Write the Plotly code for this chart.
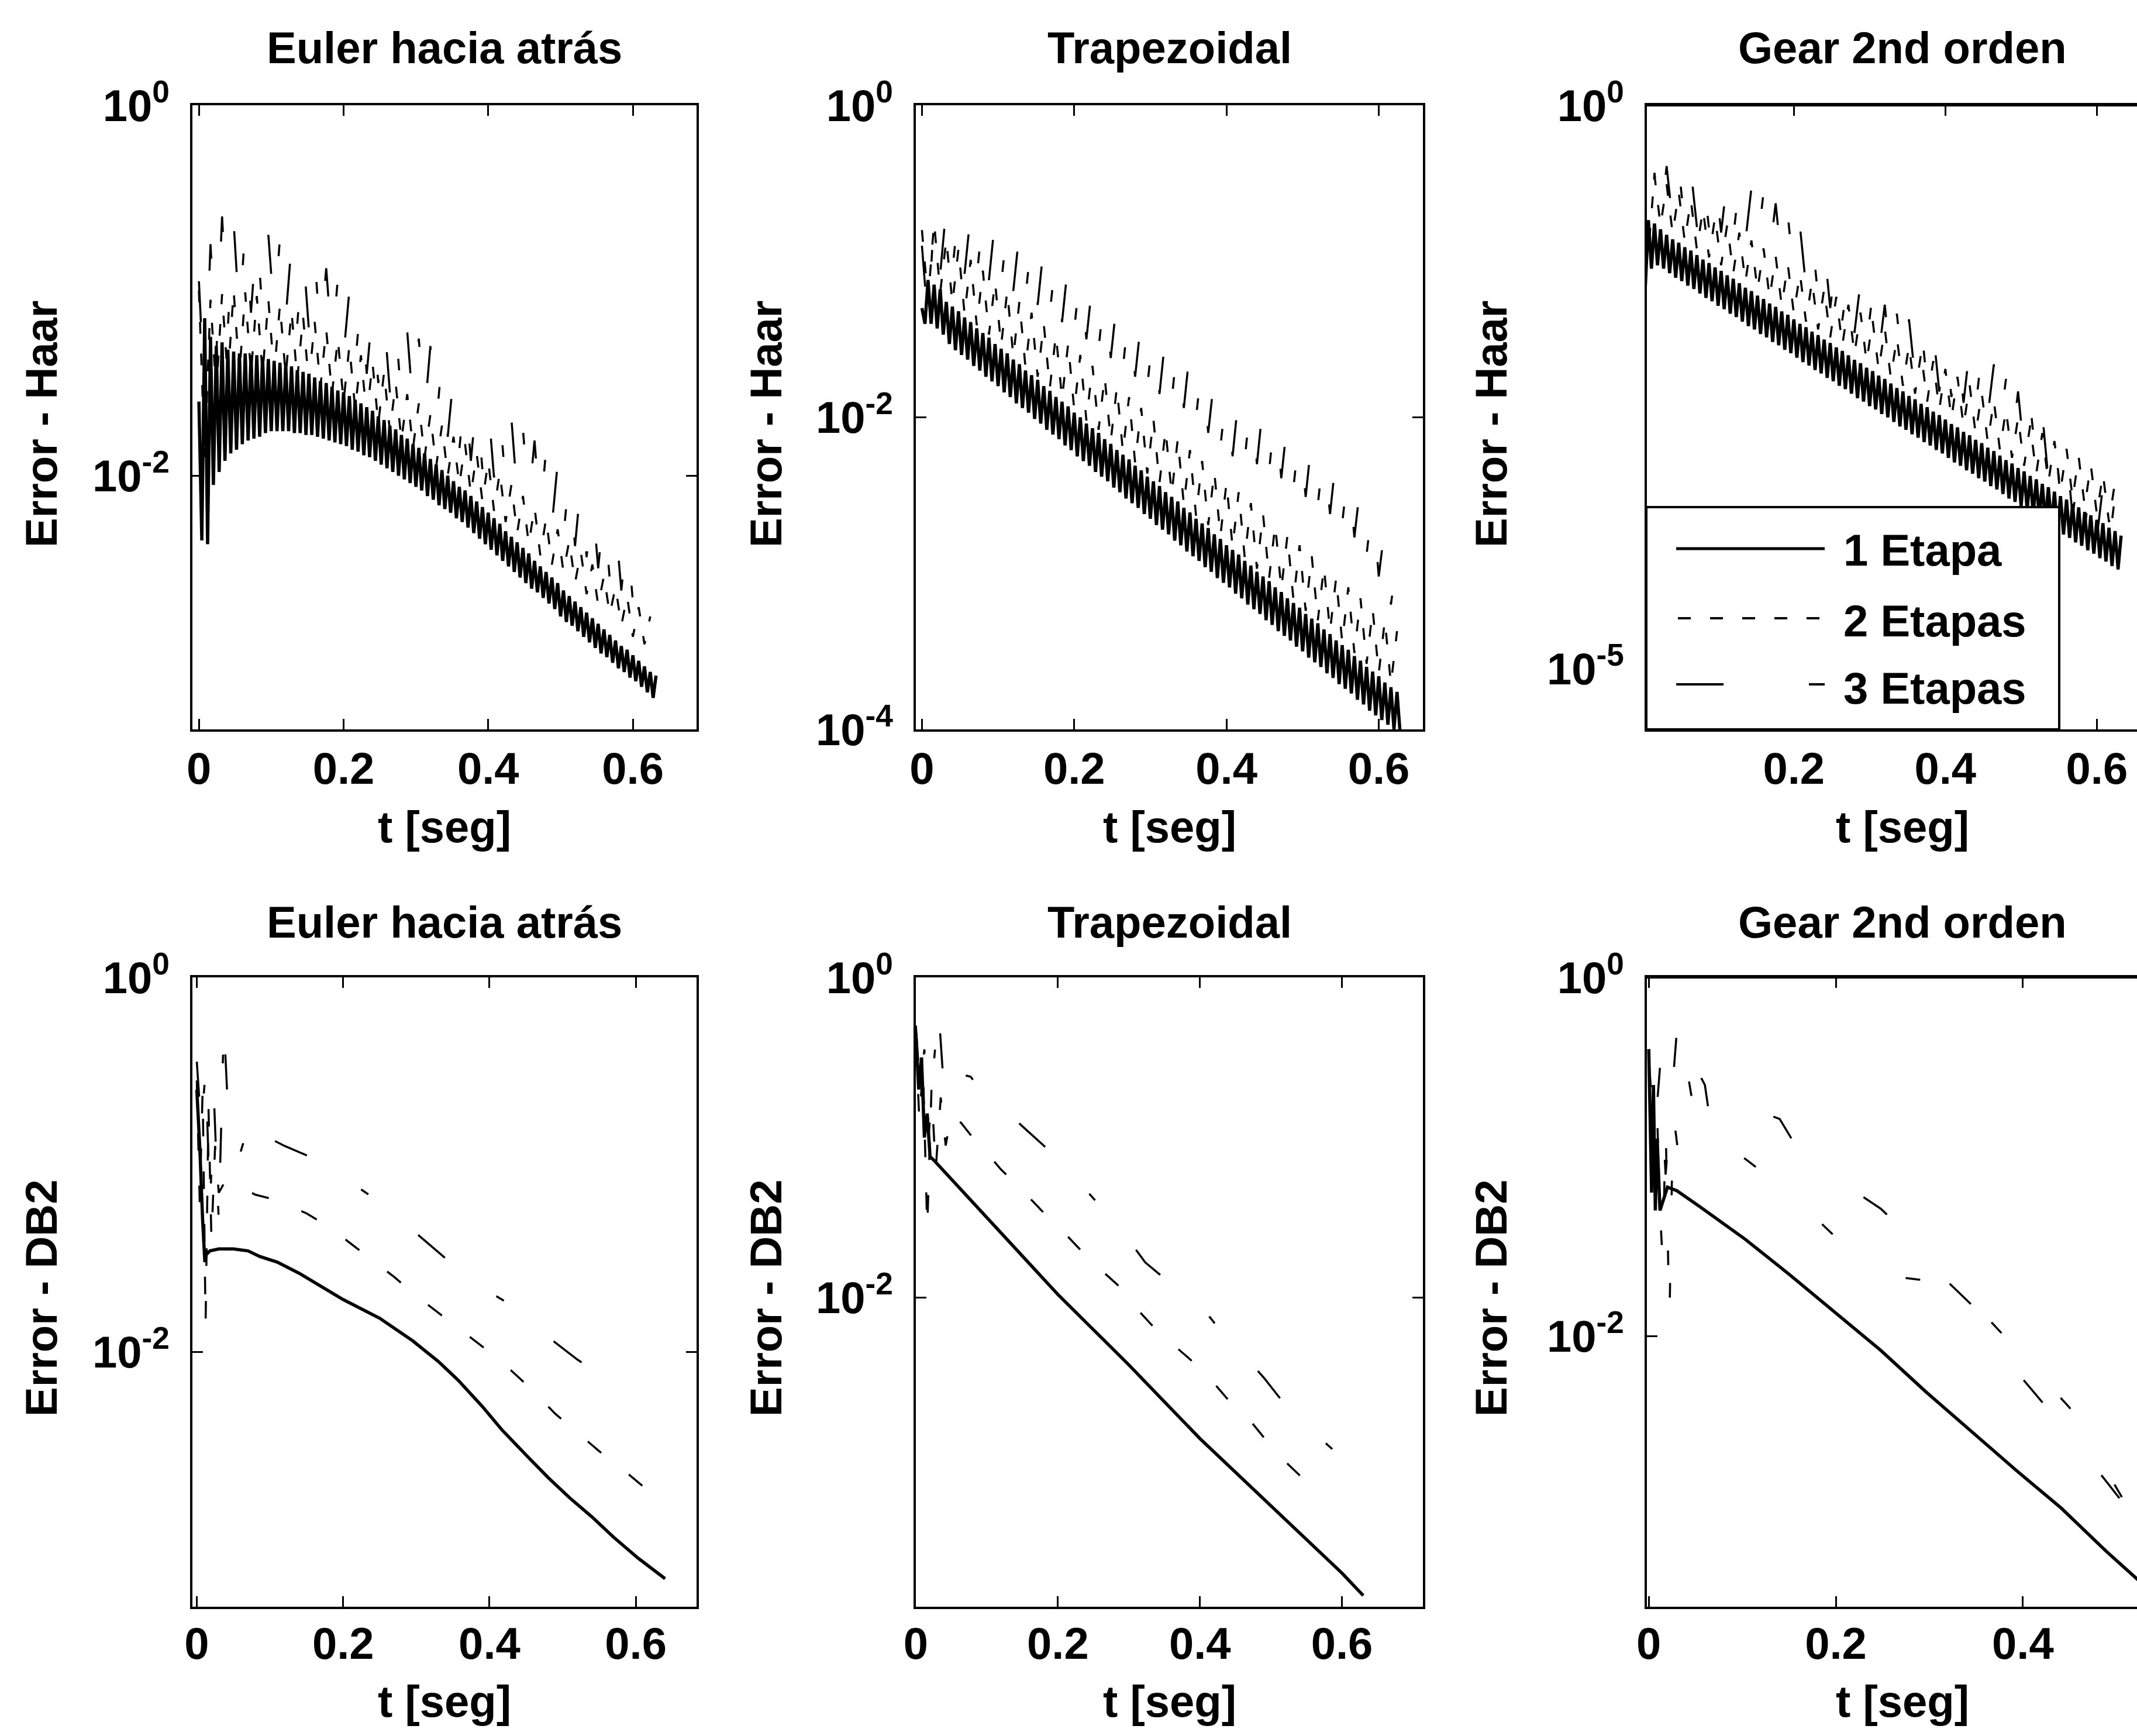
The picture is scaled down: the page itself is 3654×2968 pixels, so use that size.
import plotly.graph_objects as go

# ---------------- data (log10 of error) ----------------
# Haar rows: the error oscillates quickly; values are given as successive peaks / troughs.
STEP_S1 = 0.008      # time between successive peaks, 1 Etapa curves [s]
STEP_S23 = 0.016     # time between successive peaks, 2/3 Etapas curves [s]

P1_S1_PK = [-1.60,-1.15,-1.25,-1.30,-1.28,-1.32,-1.33,-1.34,-1.34,-1.35,
            -1.35,-1.36,-1.37,-1.38,-1.39,-1.40,-1.41,-1.43,-1.44,-1.45,
            -1.47,-1.49,-1.50,-1.52,-1.54,-1.55,-1.57,-1.59,-1.61,-1.63,
            -1.65,-1.68,-1.70,-1.73,-1.75,-1.78,-1.80,-1.83,-1.85,-1.88,
            -1.91,-1.94,-1.97,-2.00,-2.03,-2.06,-2.08,-2.11,-2.14,-2.17,
            -2.20,-2.23,-2.26,-2.30,-2.33,-2.36,-2.39,-2.42,-2.46,-2.49,
            -2.52,-2.55,-2.58,-2.62,-2.65,-2.68,-2.71,-2.74,-2.77,-2.80,
            -2.83,-2.86,-2.89,-2.92,-2.94,-2.97,-3.00,-3.03,-3.06,-3.08]
P1_S1_TR = [-2.35,-2.37,-2.05,-1.98,-1.92,-1.88,-1.86,-1.83,-1.81,-1.80,
            -1.79,-1.77,-1.76,-1.76,-1.76,-1.76,-1.77,-1.77,-1.78,-1.78,
            -1.79,-1.80,-1.81,-1.82,-1.83,-1.84,-1.86,-1.87,-1.89,-1.90,
            -1.92,-1.94,-1.96,-1.98,-2.00,-2.02,-2.04,-2.06,-2.08,-2.11,
            -2.13,-2.16,-2.18,-2.20,-2.23,-2.25,-2.28,-2.31,-2.34,-2.37,
            -2.40,-2.43,-2.46,-2.49,-2.52,-2.55,-2.58,-2.61,-2.63,-2.66,
            -2.69,-2.72,-2.76,-2.79,-2.81,-2.84,-2.87,-2.90,-2.93,-2.96,
            -2.98,-3.01,-3.04,-3.06,-3.09,-3.11,-3.14,-3.17,-3.20]
P1_S2_PK = [-1.00,-1.05,-1.02,-1.00,-1.01,-1.03,-1.05,-1.08,-1.11,-1.14,
            -1.17,-1.21,-1.26,-1.30,-1.35,-1.39,-1.44,-1.50,-1.56,-1.61,
            -1.67,-1.73,-1.79,-1.83,-1.88,-1.92,-1.98,-2.05,-2.11,-2.17,
            -2.23,-2.29,-2.35,-2.41,-2.48,-2.54,-2.60,-2.65,-2.71,-2.76]
P1_S2_TR = [-1.90,-1.55,-1.48,-1.45,-1.45,-1.45,-1.45,-1.46,-1.48,-1.50,
            -1.52,-1.56,-1.60,-1.64,-1.68,-1.72,-1.76,-1.81,-1.85,-1.90,
            -1.95,-2.00,-2.05,-2.10,-2.14,-2.19,-2.25,-2.31,-2.37,-2.43,
            -2.48,-2.52,-2.58,-2.64,-2.70,-2.75,-2.81,-2.87,-2.91]
P1_S3_PK = [-0.95,-0.75,-0.60,-0.63,-0.66,-0.68,-0.70,-0.72,-0.75,-0.78,
            -0.82,-0.88,-0.94,-1.00,-1.05,-1.10,-1.14,-1.19,-1.22,-1.26,
            -1.30,-1.38,-1.46,-1.54,-1.58,-1.62,-1.65,-1.69,-1.75,-1.81,
            -1.86,-1.93,-1.99,-2.04,-2.12,-2.18,-2.25,-2.31,-2.37]
P1_S3_TR = [-1.60,-1.35,-1.20,-1.15,-1.12,-1.12,-1.13,-1.15,-1.18,-1.21,
            -1.25,-1.30,-1.35,-1.40,-1.45,-1.50,-1.55,-1.59,-1.63,-1.67,
            -1.72,-1.79,-1.86,-1.92,-1.97,-2.01,-2.05,-2.10,-2.15,-2.21,
            -2.27,-2.33,-2.38,-2.44,-2.50,-2.56,-2.62,-2.68]

P2_S1_PK = [-1.30,-1.12,-1.15,-1.18,-1.26,-1.29,-1.32,-1.36,-1.39,-1.43,
            -1.46,-1.49,-1.53,-1.56,-1.59,-1.63,-1.66,-1.70,-1.73,-1.76,
            -1.80,-1.83,-1.87,-1.90,-1.93,-1.97,-2.00,-2.04,-2.07,-2.10,
            -2.14,-2.17,-2.21,-2.24,-2.27,-2.31,-2.34,-2.38,-2.41,-2.44,
            -2.48,-2.51,-2.54,-2.58,-2.61,-2.65,-2.68,-2.71,-2.75,-2.78,
            -2.82,-2.85,-2.88,-2.92,-2.95,-2.99,-3.02,-3.05,-3.09,-3.12,
            -3.16,-3.19,-3.22,-3.26,-3.29,-3.32,-3.36,-3.39,-3.43,-3.46,
            -3.49,-3.53,-3.56,-3.60,-3.63,-3.66,-3.70,-3.73,-3.76]
P2_S1_TR = [-1.40,-1.40,-1.43,-1.47,-1.53,-1.57,-1.60,-1.63,-1.67,-1.70,
            -1.74,-1.77,-1.80,-1.84,-1.87,-1.91,-1.94,-1.97,-2.01,-2.04,
            -2.08,-2.11,-2.14,-2.18,-2.21,-2.25,-2.28,-2.31,-2.35,-2.38,
            -2.41,-2.45,-2.48,-2.52,-2.55,-2.58,-2.62,-2.65,-2.69,-2.72,
            -2.75,-2.79,-2.82,-2.86,-2.89,-2.92,-2.96,-2.99,-3.03,-3.06,
            -3.09,-3.13,-3.16,-3.20,-3.23,-3.26,-3.30,-3.33,-3.37,-3.40,
            -3.43,-3.47,-3.50,-3.54,-3.57,-3.60,-3.64,-3.67,-3.71,-3.74,
            -3.77,-3.81,-3.84,-3.88,-3.91,-3.94,-3.97,-4.00,-4.02]
P2_S2_PK = [-0.80,-0.75,-0.86,-0.92,-0.99,-1.06,-1.13,-1.19,-1.26,-1.33,
            -1.40,-1.47,-1.53,-1.60,-1.67,-1.74,-1.81,-1.87,-1.94,-2.01,
            -2.08,-2.14,-2.21,-2.28,-2.35,-2.42,-2.48,-2.55,-2.62,-2.69,
            -2.76,-2.82,-2.89,-2.96,-3.03,-3.09,-3.16,-3.23,-3.30,-3.37]
P2_S2_TR = [-1.25,-1.20,-1.27,-1.34,-1.41,-1.47,-1.54,-1.61,-1.68,-1.74,
            -1.81,-1.88,-1.95,-2.02,-2.08,-2.15,-2.22,-2.29,-2.36,-2.42,
            -2.49,-2.56,-2.63,-2.69,-2.76,-2.83,-2.90,-2.97,-3.03,-3.10,
            -3.17,-3.24,-3.30,-3.37,-3.44,-3.51,-3.58,-3.64,-3.71]
P2_S3_PK = [-0.90,-0.70,-0.65,-0.67,-0.69,-0.71,-0.73,-0.77,-0.81,-0.85,
            -0.90,-0.96,-1.01,-1.06,-1.13,-1.19,-1.25,-1.31,-1.37,-1.43,
            -1.47,-1.51,-1.56,-1.65,-1.74,-1.83,-1.86,-1.88,-1.91,-1.96,
            -2.02,-2.08,-2.13,-2.19,-2.25,-2.32,-2.42,-2.54,-2.70,-2.90]
P2_S3_TR = [-1.40,-1.08,-1.06,-1.08,-1.10,-1.12,-1.15,-1.19,-1.23,-1.28,
            -1.33,-1.39,-1.44,-1.50,-1.56,-1.62,-1.68,-1.74,-1.80,-1.85,
            -1.89,-1.94,-2.00,-2.10,-2.19,-2.25,-2.27,-2.30,-2.34,-2.39,
            -2.45,-2.51,-2.56,-2.62,-2.68,-2.77,-2.88,-3.02,-3.20]

P3_S1_PK = [-1.30,-1.02,-1.05,-1.10,-1.15,-1.19,-1.22,-1.26,-1.29,-1.33,
            -1.37,-1.40,-1.44,-1.47,-1.51,-1.54,-1.58,-1.62,-1.65,-1.69,
            -1.72,-1.76,-1.79,-1.83,-1.86,-1.90,-1.94,-1.97,-2.01,-2.04,
            -2.08,-2.11,-2.15,-2.18,-2.22,-2.26,-2.29,-2.33,-2.36,-2.40,
            -2.43,-2.47,-2.51,-2.54,-2.58,-2.61,-2.65,-2.68,-2.72,-2.75,
            -2.79,-2.83,-2.86,-2.90,-2.93,-2.97,-3.00,-3.04,-3.07,-3.11,
            -3.15,-3.18,-3.22,-3.25,-3.29,-3.32,-3.36,-3.39,-3.43,-3.47,
            -3.50,-3.54,-3.57,-3.61,-3.64,-3.68,-3.71,-3.75,-3.78,-3.82]
P3_S1_TR = [-1.60,-1.45,-1.42,-1.45,-1.49,-1.53,-1.56,-1.60,-1.63,-1.67,
            -1.71,-1.74,-1.78,-1.81,-1.85,-1.88,-1.92,-1.96,-1.99,-2.03,
            -2.06,-2.10,-2.13,-2.17,-2.20,-2.24,-2.28,-2.31,-2.35,-2.38,
            -2.42,-2.45,-2.49,-2.52,-2.56,-2.60,-2.63,-2.67,-2.70,-2.74,
            -2.77,-2.81,-2.85,-2.88,-2.92,-2.95,-2.99,-3.02,-3.06,-3.09,
            -3.13,-3.17,-3.20,-3.24,-3.27,-3.31,-3.34,-3.38,-3.41,-3.45,
            -3.49,-3.52,-3.56,-3.59,-3.63,-3.66,-3.70,-3.73,-3.77,-3.81,
            -3.84,-3.88,-3.91,-3.95,-3.98,-4.02,-4.05,-4.09,-4.12]
P3_S2_PK = [-0.85,-0.62,-0.70,-0.77,-0.84,-0.92,-0.99,-1.06,-1.13,-1.20,
            -1.27,-1.34,-1.41,-1.49,-1.56,-1.63,-1.70,-1.77,-1.84,-1.91,
            -1.98,-2.06,-2.13,-2.20,-2.27,-2.34,-2.41,-2.48,-2.55,-2.62,
            -2.70,-2.77,-2.84,-2.91,-2.98,-3.05,-3.12,-3.19,-3.27,-3.34]
P3_S2_TR = [-1.30,-1.07,-1.14,-1.21,-1.28,-1.35,-1.42,-1.49,-1.57,-1.64,
            -1.71,-1.78,-1.85,-1.92,-1.99,-2.06,-2.13,-2.21,-2.28,-2.35,
            -2.42,-2.49,-2.56,-2.63,-2.70,-2.78,-2.85,-2.92,-2.99,-3.06,
            -3.13,-3.20,-3.27,-3.35,-3.42,-3.49,-3.56,-3.63,-3.70]
P3_S3_PK = [-0.90,-0.60,-0.54,-0.55,-0.57,-0.59,-0.62,-0.65,-0.69,-0.73,
            -0.77,-0.87,-0.97,-1.07,-1.16,-1.25,-1.36,-1.47,-1.57,-1.67,
            -1.77,-1.85,-1.90,-1.95,-2.01,-2.07,-2.12,-2.16,-2.20,-2.30,
            -2.43,-2.54,-2.64,-2.74,-2.90,-3.08,-3.22,-3.30,-3.38,-3.46]
P3_S3_TR = [-1.40,-1.07,-1.04,-1.06,-1.08,-1.10,-1.13,-1.17,-1.21,-1.25,
            -1.32,-1.42,-1.52,-1.61,-1.70,-1.80,-1.91,-2.02,-2.12,-2.22,
            -2.31,-2.37,-2.42,-2.48,-2.54,-2.59,-2.64,-2.68,-2.75,-2.86,
            -2.98,-3.09,-3.19,-3.32,-3.49,-3.65,-3.76,-3.84,-3.92]

# DB2 rows: (time, log10 error) pairs
P4_S1_T = [0.000,0.004,0.008,0.011,0.013,0.018,0.030,0.050,0.070,0.086,0.110,0.140,0.170,0.200,
           0.250,0.295,0.330,0.357,0.390,0.418,0.450,0.480,0.510,0.540,0.570,0.603,0.640]
P4_S1_E = [-0.60,-0.90,-1.30,-1.52,-1.48,-1.46,-1.45,-1.45,-1.46,-1.49,-1.52,-1.58,-1.65,-1.72,
           -1.82,-1.94,-2.05,-2.15,-2.29,-2.42,-2.55,-2.67,-2.78,-2.88,-2.99,-3.10,-3.21]
P4_S2_T = [0.000,0.004,0.008,0.012,0.016,0.020,0.025,0.030,0.040,0.050,0.060,0.080,0.100,0.120,0.150,
           0.180,0.210,0.240,0.270,0.300,0.330,0.360,0.400,0.430,0.455,0.490,0.520,0.550,0.580,0.620]
P4_S2_E = [-0.55,-1.20,-0.60,-1.85,-0.70,-1.40,-0.90,-1.15,-1.08,-1.09,-1.12,-1.16,-1.18,-1.21,-1.26,
           -1.33,-1.42,-1.51,-1.60,-1.70,-1.79,-1.88,-2.00,-2.10,-2.19,-2.33,-2.43,-2.53,-2.62,-2.75]
P4_S3_T = [0.000,0.006,0.012,0.018,0.024,0.030,0.037,0.042,0.050,0.060,0.070,0.080,0.100,0.120,0.150,
           0.170,0.190,0.220,0.250,0.280,0.310,0.340,0.370,0.400,0.430,0.460,0.490,0.520,0.550]
P4_S3_E = [-0.45,-0.80,-0.50,-1.20,-0.70,-1.30,-0.24,-0.66,-0.85,-0.93,-0.80,-0.92,-0.86,-0.90,-0.95,
           -0.98,-1.03,-1.12,-1.20,-1.30,-1.40,-1.50,-1.60,-1.68,-1.75,-1.85,-1.95,-2.04,-2.12]

P5_S1_T = [0.000,0.004,0.008,0.012,0.016,0.020,0.025,0.050,0.100,0.150,0.200,0.250,0.300,0.350,
           0.400,0.450,0.500,0.550,0.600,0.630]
P5_S1_E = [-0.35,-0.70,-0.50,-1.00,-0.85,-1.12,-1.14,-1.26,-1.50,-1.74,-1.98,-2.20,-2.42,-2.65,
           -2.88,-3.09,-3.30,-3.51,-3.72,-3.86]
P5_S2_T = [0.000,0.005,0.010,0.016,0.022,0.028,0.035,0.042,0.050,0.064,0.080,0.093,0.120,0.150,0.180,
           0.210,0.240,0.259,0.284,0.307,0.332,0.364,0.390,0.419,0.444,0.473,0.495,0.524,0.550]
P5_S2_E = [-0.40,-0.90,-0.55,-1.57,-0.70,-1.20,-0.75,-1.05,-0.85,-0.91,-1.00,-1.06,-1.20,-1.33,-1.47,
           -1.60,-1.74,-1.82,-1.92,-2.05,-2.17,-2.30,-2.40,-2.53,-2.66,-2.78,-2.90,-3.04,-3.15]
P5_S3_T = [0.000,0.006,0.012,0.018,0.024,0.032,0.038,0.045,0.058,0.077,0.100,0.120,0.131,0.150,0.180,
           0.210,0.234,0.260,0.290,0.323,0.350,0.380,0.410,0.428,0.460,0.490,0.522,0.550,0.580,0.600,
           0.622,0.630]
P5_S3_E = [-0.30,-0.70,-0.45,-1.00,-0.60,-0.20,-0.60,-0.45,-0.60,-0.62,-0.75,-0.80,-0.85,-0.93,-1.05,
           -1.18,-1.30,-1.43,-1.58,-1.78,-1.88,-1.99,-2.10,-2.20,-2.35,-2.50,-2.68,-2.80,-2.92,-3.00,
           -3.10,-3.15]

P6_S1_T = [0.000,0.003,0.005,0.007,0.009,0.012,0.020,0.030,0.055,0.103,0.151,0.200,0.248,0.296,
           0.344,0.393,0.441,0.489,0.540,0.600,0.630]
P6_S1_E = [-0.40,-1.20,-0.60,-1.30,-0.90,-1.30,-1.17,-1.19,-1.28,-1.46,-1.66,-1.87,-2.08,-2.31,
           -2.53,-2.75,-2.96,-3.20,-3.44,-3.70,-3.82]
P6_S2_T = [0.000,0.004,0.008,0.012,0.015,0.018,0.022,0.026,0.032,0.043,0.050,0.065,0.080,0.100,
           0.150,0.200,0.250,0.310,0.330,0.380,0.450,0.516,0.550]
P6_S2_E = [-0.50,-1.00,-0.60,-1.30,-1.60,-0.80,-1.94,-0.75,-1.00,-0.58,-0.80,-0.90,-0.95,-1.00,
           -1.20,-1.45,-1.66,-1.70,-1.72,-2.00,-2.40,-2.99,-3.10]
P6_S3_T = [0.000,0.006,0.012,0.018,0.024,0.030,0.035,0.040,0.050,0.060,0.065,0.075,0.090,0.120,
           0.140,0.155,0.190,0.225,0.248,0.280,0.320,0.360,0.383,0.395,0.450,0.516]
P6_S3_E = [-0.45,-0.90,-0.50,-1.10,-0.70,-0.30,-0.20,-0.37,-0.50,-0.60,-0.78,-0.70,-0.64,-0.75,
           -0.79,-0.92,-1.05,-1.21,-1.29,-1.45,-1.70,-1.90,-2.07,-2.21,-2.55,-2.99]

TITLES = ["Euler hacia atrás", "Trapezoidal", "Gear 2nd orden"]
ROW_YLABELS = ["Error - Haar", "Error - DB2"]
XLABEL = "t [seg]"
LEGEND_NAMES = ["1 Etapa", "2 Etapas", "3 Etapas"]
X_TICKS = [0, 0.2, 0.4, 0.6]
X_TICKTEXT = ["0", "0.2", "0.4", "0.6"]

# ---------------- helpers ----------------
def osc(peaks, troughs, step):
    t, v = [], []
    for k, p in enumerate(peaks):
        t.append(round(k * step, 4)); v.append(10 ** p)
        if k < len(troughs):
            t.append(round(k * step + step / 2, 4)); v.append(10 ** troughs[k])
    return t, v

def lin(ts, es):
    return list(ts), [10 ** e for e in es]

FONT = "Liberation Sans, Arial, Helvetica, sans-serif"
W, H = 3654, 2968
def px(x): return x / W
def py(y): return 1 - y / H

S1 = dict(color="black", width=5.5)
S2_H = dict(color="black", width=3.5, dash="20px,34px")
S3_H = dict(color="black", width=3.5, dash="70px,170px,20px,170px")
S2_D = dict(color="black", width=3.5, dash="30px,60px")
S3_D = dict(color="black", width=3.5, dash="60px,110px,15px,110px")
S2_G = dict(color="black", width=3.5, dash="25px,150px")
S3_G = dict(color="black", width=3.5, dash="50px,160px")

panels = [
    [osc(P1_S1_PK, P1_S1_TR, STEP_S1), osc(P1_S2_PK, P1_S2_TR, STEP_S23), osc(P1_S3_PK, P1_S3_TR, STEP_S23)],
    [osc(P2_S1_PK, P2_S1_TR, STEP_S1), osc(P2_S2_PK, P2_S2_TR, STEP_S23), osc(P2_S3_PK, P2_S3_TR, STEP_S23)],
    [osc(P3_S1_PK, P3_S1_TR, STEP_S1), osc(P3_S2_PK, P3_S2_TR, STEP_S23), osc(P3_S3_PK, P3_S3_TR, STEP_S23)],
    [lin(P4_S1_T, P4_S1_E), lin(P4_S2_T, P4_S2_E), lin(P4_S3_T, P4_S3_E)],
    [lin(P5_S1_T, P5_S1_E), lin(P5_S2_T, P5_S2_E), lin(P5_S3_T, P5_S3_E)],
    [lin(P6_S1_T, P6_S1_E), lin(P6_S2_T, P6_S2_E), lin(P6_S3_T, P6_S3_E)],
]
panel_styles = [[S1, S2_H, S3_H]] * 3 + [[S1, S2_D, S3_D], [S1, S2_D, S3_D], [S1, S2_G, S3_G]]

fig = go.Figure()
for i, series in enumerate(panels):
    sfx = "" if i == 0 else str(i + 1)
    for j in (2, 1, 0):
        t, v = series[j]
        fig.add_trace(go.Scatter(x=t, y=v, mode="lines", line=panel_styles[i][j], name=LEGEND_NAMES[j],
                                 showlegend=False, xaxis="x" + sfx, yaxis="y" + sfx))

# ---------------- axes ----------------
COL_DOM = [[px(329), px(1191)], [px(1566), px(2433)], [px(2816), 1.0]]
ROW_DOM = [[py(1247), py(180)], [py(2747), py(1671)]]
X_RANGES = [[-0.009, 0.688], [-0.008, 0.658], [0.006, 0.653],
            [-0.006, 0.683], [0.0, 0.714], [-0.002, 0.522]]
Y_RANGES = [[-3.37, 0], [-4.0, 0], [-5.54, 0], [-3.36, 0], [-3.93, 0], [-3.51, 0]]
Y_TICKS = [[0, -2], [0, -2, -4], [0, -5], [0, -2], [0, -2], [0, -2]]

TICKFONT = dict(family=FONT, size=76, color="black", weight="bold")
common = dict(showline=True, linewidth=4, linecolor="black", ticks="inside", ticklen=18,
              tickwidth=3, tickcolor="black", showgrid=False, zeroline=False, automargin=False,
              tickfont=TICKFONT)
for i in range(6):
    r, c = divmod(i, 3)
    sfx = "" if i == 0 else str(i + 1)
    fig.layout["xaxis" + sfx] = dict(common, domain=COL_DOM[c], range=X_RANGES[i],
                                     anchor="y" + sfx, mirror="ticks",
                                     tickvals=X_TICKS, ticktext=X_TICKTEXT,
                                     ticklabelstandoff=[-2, -6][r])
    fig.layout["yaxis" + sfx] = dict(common, domain=ROW_DOM[r], range=Y_RANGES[i], type="log",
                                     anchor="x" + sfx, mirror="ticks" if c < 2 else False,
                                     tickvals=[10 ** e for e in Y_TICKS[i]],
                                     ticktext=["10<sup>%d</sup>" % e for e in Y_TICKS[i]],
                                     ticklabelstandoff=20)

# ---------------- text ----------------
TXT = dict(family=FONT, size=76, color="black", weight="bold")
ann = []
title_x = [px(760), px(2000), px(3253)]
ylab_x = [px(70), px(1309), px(2549)]
for r in range(2):
    for c in range(3):
        ann.append(dict(text=TITLES[c], x=title_x[c], y=py([82, 1576][r]), xref="paper", yref="paper",
                        showarrow=False, xanchor="center", yanchor="middle", font=TXT))
        ann.append(dict(text=XLABEL, x=title_x[c], y=py([1414, 2908][r]), xref="paper", yref="paper",
                        showarrow=False, xanchor="center", yanchor="middle", font=TXT))
        ann.append(dict(text=ROW_YLABELS[r], x=ylab_x[c], y=py([725, 2220][r]), xref="paper",
                        yref="paper", showarrow=False, xanchor="center", yanchor="middle",
                        textangle=-90, font=TXT))

shapes = []
# top border of the right-hand (cropped) panels
for r in range(2):
    top = ROW_DOM[r][1]
    shapes.append(dict(type="line", xref="paper", yref="paper", x0=COL_DOM[2][0], x1=1.0,
                       y0=top, y1=top, line=dict(color="black", width=4)))
# legend box inside the Gear 2nd orden / Haar panel
shapes.append(dict(type="rect", xref="paper", yref="paper", x0=px(2815), x1=px(3521),
                   y0=py(1247), y1=py(867), fillcolor="white",
                   line=dict(color="black", width=4), layer="above"))
shapes.append(dict(type="line", xref="paper", yref="paper", x0=px(2866), x1=px(3120),
                   y0=py(938), y1=py(938), line=dict(color="black", width=5), layer="above"))
shapes.append(dict(type="line", xref="paper", yref="paper", x0=px(2869), x1=px(3112),
                   y0=py(1057), y1=py(1057), line=dict(color="black", width=4, dash="22px,33px"),
                   layer="above"))
shapes.append(dict(type="line", xref="paper", yref="paper", x0=px(2866), x1=px(2947),
                   y0=py(1170), y1=py(1170), line=dict(color="black", width=4), layer="above"))
shapes.append(dict(type="line", xref="paper", yref="paper", x0=px(3093), x1=px(3120),
                   y0=py(1170), y1=py(1170), line=dict(color="black", width=4), layer="above"))
for name, yc in zip(LEGEND_NAMES, [941, 1061, 1177]):
    ann.append(dict(text=name, x=px(3150), y=py(yc), xref="paper", yref="paper", showarrow=False,
                    xanchor="left", yanchor="middle", font=TXT))

fig.update_layout(template="none", width=W, height=H, margin=dict(l=0, r=0, t=0, b=0, pad=0),
                  paper_bgcolor="white", plot_bgcolor="white", showlegend=False,
                  annotations=ann, shapes=shapes, font=dict(family=FONT, color="black"))
fig.write_html("out.html")
